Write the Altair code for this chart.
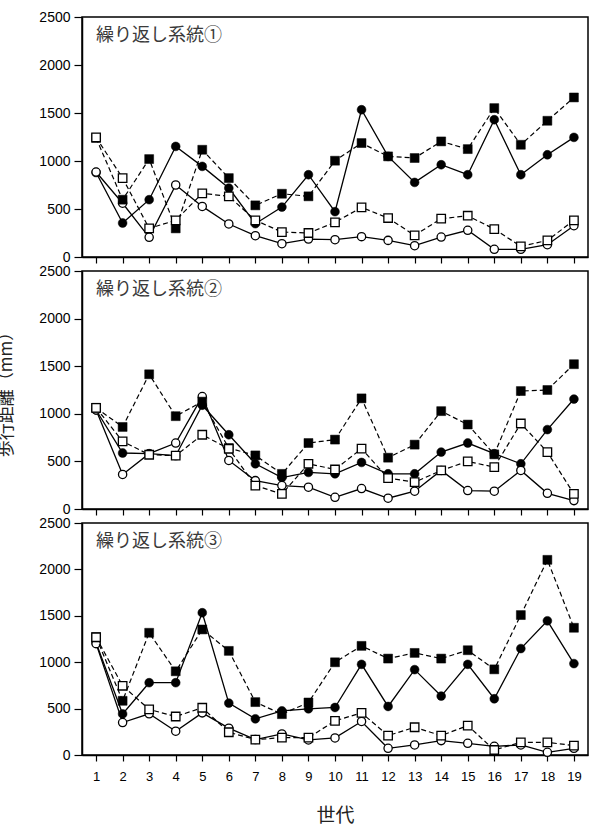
import altair as alt
import pandas as pd

# 世代
generations = list(range(1, 20))
y_ticks = [0, 500, 1000, 1500, 2000, 2500]

# 繰り返し系統①
r1_filled_square = [1240, 597, 1020, 298, 1117, 822, 538, 659, 632, 1003, 1187, 1048, 1031, 1204, 1124, 1551, 1169, 1419, 1662]
r1_filled_circle = [880, 354, 597, 1152, 944, 718, 347, 520, 857, 472, 1534, 1048, 777, 961, 857, 1430, 857, 1065, 1246]
r1_open_square = [1246, 822, 298, 382, 663, 632, 382, 260, 250, 361, 517, 406, 226, 399, 430, 291, 111, 173, 382]
r1_open_circle = [885, 560, 205, 750, 527, 344, 222, 139, 187, 180, 212, 173, 118, 208, 278, 80, 80, 128, 326]

# 繰り返し系統②
r2_filled_square = [1063, 862, 1415, 975, 1128, 640, 563, 369, 693, 729, 1162, 539, 676, 1028, 887, 574, 1239, 1250, 1521]
r2_filled_circle = [1040, 588, 581, 560, 1090, 780, 475, 330, 384, 370, 489, 370, 370, 598, 693, 581, 475, 834, 1155]
r2_open_square = [1063, 711, 570, 560, 780, 633, 246, 158, 475, 415, 634, 324, 282, 405, 500, 440, 898, 598, 158]
r2_open_circle = [1040, 363, 581, 693, 1181, 510, 298, 246, 229, 123, 215, 113, 187, 405, 194, 187, 405, 165, 88]

# 繰り返し系統③
r3_filled_square = [1270, 584, 1317, 902, 1353, 1122, 570, 440, 566, 999, 1176, 1039, 1100, 1039, 1129, 923, 1508, 2103, 1371]
r3_filled_circle = [1210, 443, 779, 779, 1533, 559, 390, 476, 498, 512, 977, 523, 920, 635, 977, 606, 1147, 1446, 985]
r3_open_square = [1269, 746, 491, 415, 509, 245, 166, 187, 187, 368, 454, 209, 299, 209, 317, 54, 137, 137, 101]
r3_open_circle = [1200, 350, 444, 256, 454, 289, 166, 227, 162, 184, 361, 72, 108, 155, 126, 94, 108, 29, 72]

panel_labels = ["繰り返し系統①", "繰り返し系統②", "繰り返し系統③"]

JP_FONT = "Noto Sans CJK JP"
NUM_FONT = "Liberation Sans"

# drawing order: bottom to top
series_styles = [
    # column, shape, hollow, dashed
    ("filled_circle", "circle", False, False),
    ("open_circle", "circle", True, False),
    ("filled_square", "square", False, True),
    ("open_square", "square", True, True),
]

x_scale = alt.Scale(domain=[0.47, 19.53], nice=False, zero=False)
y_scale = alt.Scale(domain=[0, 2500], nice=False)


def make_panel(values, label, height, bottom=False, y_title=False):
    df = pd.DataFrame({"gen": generations, **values})

    if bottom:
        x_axis = alt.Axis(values=generations, labelFontSize=13, tickSize=6,
                          labelPadding=9, grid=False, titleFontSize=19,
                          titleFont=JP_FONT, titleFontWeight="normal",
                          titlePadding=23, titleColor="#222222")
        x_title = "世代"
    else:
        x_axis = alt.Axis(values=generations, labels=False, tickSize=6, grid=False)
        x_title = None

    if y_title:
        y_axis = alt.Axis(values=y_ticks, format="d", labelFontSize=14, tickSize=8,
                          labelPadding=4, grid=False, titleFontSize=17,
                          titleFont=JP_FONT, titleFontWeight="normal",
                          titlePadding=23, titleColor="#222222")
        y_ttl = "歩行距離（mm）"
    else:
        y_axis = alt.Axis(values=y_ticks, format="d", labelFontSize=14, tickSize=8,
                          labelPadding=4, grid=False)
        y_ttl = None

    layers = []
    for col, shape, hollow, dashed in series_styles:
        base = alt.Chart(df).encode(
            x=alt.X("gen:Q", scale=x_scale, axis=x_axis, title=x_title),
            y=alt.Y(f"{col}:Q", scale=y_scale, axis=y_axis, title=y_ttl),
        )
        if dashed:
            line = base.mark_line(color="black", strokeWidth=1.2, strokeDash=[5, 3])
        else:
            line = base.mark_line(color="black", strokeWidth=1.3)
        if hollow:
            pts = base.mark_point(shape=shape, filled=True, fill="white",
                                  stroke="black", strokeWidth=1.3,
                                  size=72 if shape == "square" else 68, opacity=1)
        else:
            pts = base.mark_point(shape=shape, filled=True, fill="black",
                                  stroke="black", strokeWidth=0.5,
                                  size=80 if shape == "square" else 78, opacity=1)
        layers += [line, pts]

    title_text = alt.Chart(pd.DataFrame({"t": [label]})).mark_text(
        align="left", baseline="middle", font=JP_FONT, fontSize=18,
        color="#3a3a3a",
    ).encode(text="t:N", x=alt.value(14), y=alt.value(19))
    layers.append(title_text)

    return alt.layer(*layers).properties(width=506, height=height)


p1 = make_panel({"filled_square": r1_filled_square, "filled_circle": r1_filled_circle,
                 "open_square": r1_open_square, "open_circle": r1_open_circle},
                panel_labels[0], 240)
p2 = make_panel({"filled_square": r2_filled_square, "filled_circle": r2_filled_circle,
                 "open_square": r2_open_square, "open_circle": r2_open_circle},
                panel_labels[1], 238, y_title=True)
p3 = make_panel({"filled_square": r3_filled_square, "filled_circle": r3_filled_circle,
                 "open_square": r3_open_square, "open_circle": r3_open_circle},
                panel_labels[2], 232, bottom=True)

chart = alt.vconcat(p1, p2, p3, spacing=14, bounds="flush").properties(
    padding={"left": -3, "top": 9, "right": 8, "bottom": 5},
    background="white",
).configure_view(
    stroke="black", strokeWidth=1.5,
).configure_axis(
    labelFont=NUM_FONT, labelColor="black", domainColor="black",
    domainWidth=1.5, tickColor="black", tickWidth=1.2,
)

chart.save("out.html", embed_options={"renderer": "svg", "actions": False})
